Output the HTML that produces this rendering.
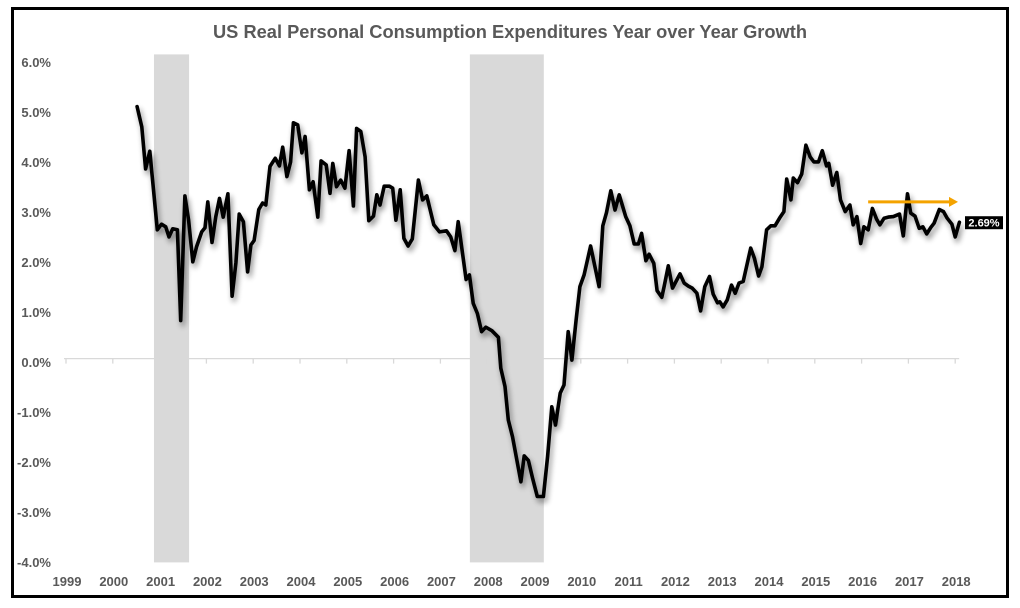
<!DOCTYPE html>
<html><head><meta charset="utf-8"><style>
html,body{margin:0;padding:0;background:#fff;}
svg{display:block;font-family:"Liberation Sans",sans-serif;}
</style></head><body>
<svg id="chart" width="1020" height="608" viewBox="0 0 1020 608" xmlns="http://www.w3.org/2000/svg">
<defs>
<filter id="sh" x="-5%" y="-5%" width="110%" height="115%">
<feGaussianBlur in="SourceAlpha" stdDeviation="3"/>
<feOffset dx="2" dy="4" result="b"/>
<feComponentTransfer><feFuncA type="linear" slope="0.45"/></feComponentTransfer>
<feMerge><feMergeNode/><feMergeNode in="SourceGraphic"/></feMerge>
</filter>
</defs>
<rect x="12.5" y="8.5" width="995" height="588" fill="#fff" stroke="#000" stroke-width="3"/>
<text x="510" y="38" text-anchor="middle" font-size="18" font-weight="bold" fill="#595959" textLength="594" lengthAdjust="spacingAndGlyphs">US Real Personal Consumption Expenditures Year over Year Growth</text>
<g id="rec"></g>
<g id="axes"></g>
<g id="series" filter="url(#sh)"></g>
<g id="anno"></g>
</svg>
<script>
const yearTicks=[1999,2000,2001,2002,2003,2004,2005,2006,2007,2008,2009,2010,2011,2012,2013,2014,2015,2016,2017,2018];
const yTicks=[6,5,4,3,2,1,0,-1,-2,-3,-4];
const recessionStart=[2000.88,2007.63];
const recessionEnd=[2001.63,2009.21];
const dates=[2000.52,2000.62,2000.70,2000.79,2000.87,2000.95,2001.04,2001.13,2001.20,2001.28,2001.38,2001.45,2001.54,2001.62,2001.71,2001.79,2001.90,2001.97,2002.03,2002.12,2002.20,2002.28,2002.36,2002.46,2002.55,2002.63,2002.70,2002.79,2002.88,2002.95,2003.02,2003.12,2003.20,2003.27,2003.36,2003.47,2003.56,2003.63,2003.72,2003.80,2003.86,2003.95,2004.04,2004.11,2004.20,2004.28,2004.38,2004.45,2004.56,2004.64,2004.70,2004.78,2004.87,2004.96,2005.05,2005.14,2005.21,2005.30,2005.39,2005.47,2005.57,2005.64,2005.71,2005.80,2005.91,2005.98,2006.05,2006.14,2006.22,2006.31,2006.40,2006.53,2006.62,2006.71,2006.86,2006.98,2007.13,2007.22,2007.31,2007.38,2007.55,2007.62,2007.70,2007.79,2007.88,2007.97,2008.10,2008.24,2008.29,2008.38,2008.45,2008.54,2008.72,2008.79,2008.88,2008.97,2009.07,2009.20,2009.29,2009.38,2009.46,2009.56,2009.64,2009.73,2009.81,2009.90,2009.98,2010.07,2010.21,2010.39,2010.47,2010.55,2010.64,2010.73,2010.82,2010.96,2011.05,2011.14,2011.23,2011.30,2011.39,2011.46,2011.56,2011.63,2011.73,2011.78,2011.87,2011.96,2012.12,2012.21,2012.30,2012.38,2012.48,2012.56,2012.65,2012.75,2012.83,2012.92,2012.97,2013.04,2013.13,2013.22,2013.30,2013.38,2013.47,2013.63,2013.71,2013.80,2013.87,2013.97,2014.06,2014.15,2014.26,2014.34,2014.40,2014.49,2014.54,2014.63,2014.72,2014.81,2014.90,2014.98,2015.08,2015.16,2015.25,2015.30,2015.38,2015.47,2015.55,2015.65,2015.75,2015.82,2015.90,2015.98,2016.05,2016.14,2016.23,2016.32,2016.39,2016.48,2016.57,2016.68,2016.81,2016.89,2016.98,2017.05,2017.14,2017.23,2017.31,2017.39,2017.48,2017.55,2017.66,2017.75,2017.83,2017.93,2018.00,2018.09];
const growth=[4.97,4.57,3.74,4.09,3.33,2.54,2.65,2.60,2.40,2.56,2.54,0.75,3.21,2.73,1.91,2.21,2.50,2.58,3.09,2.29,2.80,3.16,2.79,3.25,1.23,1.89,2.85,2.70,1.71,2.24,2.33,2.94,3.07,3.03,3.79,3.95,3.80,4.17,3.59,3.88,4.65,4.61,4.06,4.38,3.33,3.49,2.79,3.90,3.82,3.26,3.85,3.39,3.52,3.36,4.10,3.01,4.54,4.48,3.98,2.72,2.81,3.23,3.03,3.40,3.40,3.36,2.73,3.33,2.37,2.22,2.36,3.52,3.13,3.21,2.64,2.50,2.52,2.40,2.13,2.70,1.56,1.65,1.09,0.89,0.53,0.62,0.55,0.42,-0.19,-0.55,-1.21,-1.54,-2.43,-1.92,-2.01,-2.36,-2.72,-2.72,-1.93,-0.95,-1.31,-0.68,-0.52,0.53,-0.03,0.76,1.42,1.65,2.22,1.42,2.62,2.88,3.31,2.93,3.23,2.80,2.62,2.26,2.26,2.47,1.93,2.06,1.88,1.34,1.21,1.42,1.83,1.39,1.67,1.49,1.43,1.39,1.29,0.94,1.42,1.62,1.27,1.10,1.12,1.02,1.16,1.45,1.29,1.49,1.52,2.18,1.98,1.63,1.81,2.54,2.62,2.62,2.79,2.90,3.54,3.13,3.56,3.47,3.64,4.21,3.98,3.88,3.88,4.10,3.80,3.85,3.42,3.67,3.13,2.90,3.03,2.64,2.80,2.27,2.60,2.54,2.96,2.75,2.64,2.77,2.79,2.80,2.85,2.42,3.25,2.87,2.81,2.57,2.60,2.46,2.59,2.67,2.94,2.90,2.77,2.65,2.40,2.69];
const trendStart=[2016.14,3.09];
const trendEnd=[2018.06,3.09];
const lastLabel="2.69%";

const NS="http://www.w3.org/2000/svg";
const X=d=>66+(d-1999)*46.8;
const Y=v=>358.6-v*50.7;
const YL=v=>362-v*50;
function mk(tag,attrs,parent,txt){const e=document.createElementNS(NS,tag);for(const k in attrs)e.setAttribute(k,attrs[k]);if(txt!==undefined)e.textContent=txt;parent.appendChild(e);return e;}
const rec=document.getElementById('rec'),axes=document.getElementById('axes'),ser=document.getElementById('series'),anno=document.getElementById('anno');
for(let i=0;i<recessionStart.length;i++){
 const r=mk('rect',{x:X(recessionStart[i]),y:Y(6),width:X(recessionEnd[i])-X(recessionStart[i]),height:Y(-4)-Y(6)+1,fill:'#d9d9d9'},rec);
 
 
}
const ax=mk('line',{x1:X(1999)-2,x2:X(2018)+4,y1:Y(0),y2:Y(0),stroke:'#d9d9d9','stroke-width':1.3},axes);


yearTicks.forEach(yr=>{
 const t=mk('line',{x1:X(yr),x2:X(yr),y1:Y(0),y2:Y(0)+5,stroke:'#d9d9d9','stroke-width':1.3},axes);
 
 
 const l=mk('text',{x:X(yr)+1,y:586,'text-anchor':'middle','font-size':13,'font-weight':'bold',fill:'#595959'},axes,String(yr));
 
 
});
yTicks.forEach(v=>{
 const l=mk('text',{x:51,y:YL(v)+5,'text-anchor':'end','font-size':13,'font-weight':'bold',fill:'#595959'},axes,v.toFixed(1)+'%');
 
 
});
const pts=dates.map((d,i)=>X(d).toFixed(1)+','+Y(growth[i]).toFixed(1)).join(' ');
const pl=mk('polyline',{points:pts,fill:'none',stroke:'#000','stroke-width':3.6,'stroke-linejoin':'round','stroke-linecap':'round'},ser);


const ar=mk('line',{x1:X(trendStart[0]),y1:Y(trendStart[1]),x2:X(trendEnd[0])-6,y2:Y(trendEnd[1]),stroke:'#f4a300','stroke-width':3},anno);


const ah=mk('polygon',{points:`${X(trendEnd[0])},${Y(trendEnd[1])} ${X(trendEnd[0])-9},${Y(trendEnd[1])-5} ${X(trendEnd[0])-9},${Y(trendEnd[1])+5}`,fill:'#f4a300'},anno);


const lb=mk('rect',{x:965,y:Y(growth[growth.length-1])-6,width:38,height:13,fill:'#000'},anno);


const lt=mk('text',{x:984,y:Y(growth[growth.length-1])+4.5,'text-anchor':'middle','font-size':11,'font-weight':'bold',fill:'#fff'},anno,lastLabel);


</script>
</body></html>
